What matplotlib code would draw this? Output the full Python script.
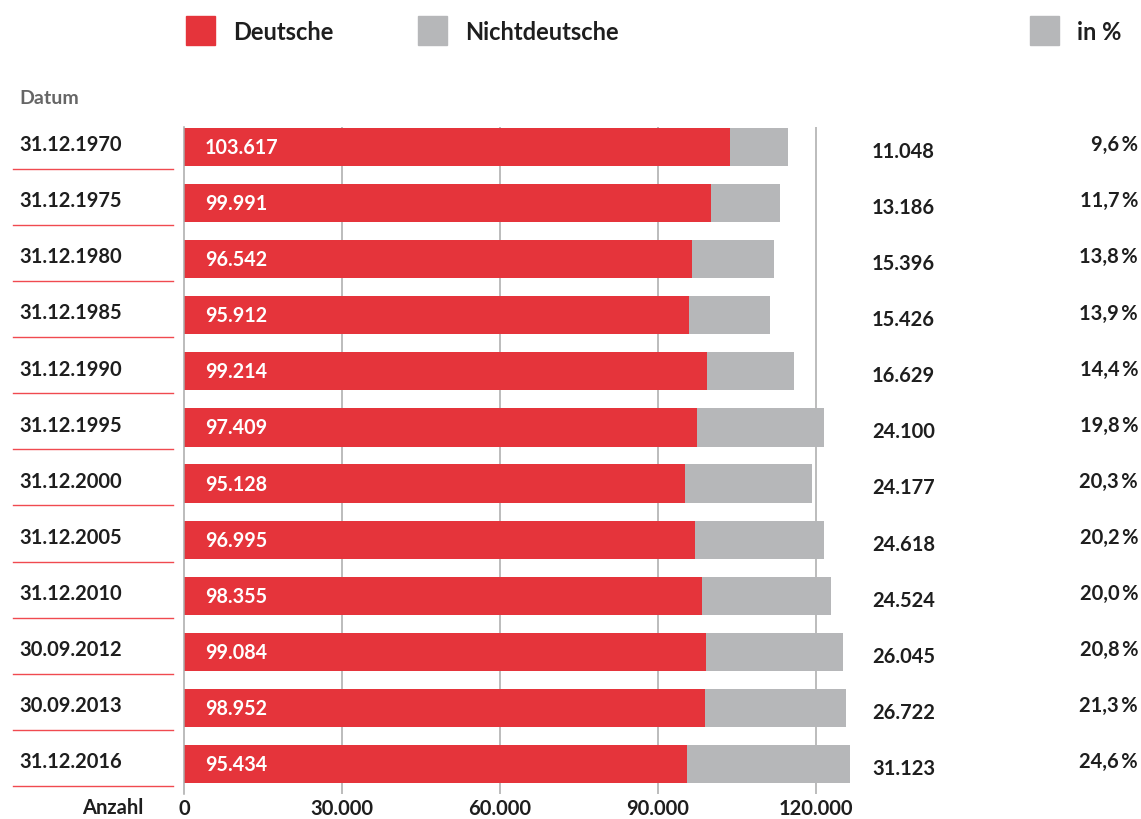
import matplotlib
matplotlib.use("Agg")
import matplotlib.pyplot as plt
from matplotlib.transforms import blended_transform_factory
from matplotlib.lines import Line2D
from matplotlib.patches import Rectangle

plt.rcParams['font.family'] = ['Lato', 'DejaVu Sans']

# Einwohner nach Staatsangehörigkeit
datum = ['31.12.1970', '31.12.1975', '31.12.1980', '31.12.1985', '31.12.1990',
         '31.12.1995', '31.12.2000', '31.12.2005', '31.12.2010', '30.09.2012',
         '30.09.2013', '31.12.2016']
deutsche = [103617, 99991, 96542, 95912, 99214, 97409, 95128, 96995, 98355,
            99084, 98952, 95434]
nichtdeutsche = [11048, 13186, 15396, 15426, 16629, 24100, 24177, 24618, 24524,
                 26045, 26722, 31123]
anteil = [9.6, 11.7, 13.8, 13.9, 14.4, 19.8, 20.3, 20.2, 20.0, 20.8, 21.3, 24.6]
ticks = [0, 30000, 60000, 90000, 120000]

ROT = '#e5343b'
GRAU = '#b6b7b9'
TEXT = '#1e1e1e'
FS = 14.5


def fmt(n):
    return f"{n:,}".replace(',', '.')


W, H = 1141, 820
fig = plt.figure(figsize=(W / 100, H / 100), dpi=100)
# Achsenbereich in Pixeln: links 184, rechts 850, oben 128, unten 795
ax = fig.add_axes([184 / W, 1 - 795 / H, 666 / W, (795 - 128) / H])

y = list(range(len(datum)))
ax.barh(y, deutsche, height=0.68, color=ROT, zorder=2)
ax.barh(y, nichtdeutsche, left=deutsche, height=0.68, color=GRAU, zorder=2)

ax.set_xlim(0, 666 * 30000 / 158)
ax.set_ylim(len(datum) - 1 + 0.535, -0.357)

for t in ticks[1:]:
    ax.axvline(t, color='#a9a9a9', lw=1.1, zorder=1)
for s in ['top', 'right', 'bottom']:
    ax.spines[s].set_visible(False)
ax.spines['left'].set_color('#a9a9a9')
ax.spines['left'].set_linewidth(1.1)
ax.set_yticks([])
ax.set_xticks(ticks)
ax.set_xticklabels([fmt(t) for t in ticks], fontsize=FS, fontweight='bold',
                   color=TEXT)
ax.tick_params(axis='x', length=0, pad=3)

# Zahlen in den roten Balken
for i, d in enumerate(deutsche):
    ax.text(4000, i, fmt(d), color='white', fontsize=14.2, fontweight='bold',
            va='center', ha='left', zorder=3)

# Spalten links und rechts neben den Balken
tr = blended_transform_factory(fig.transFigure, ax.transData)
for i in y:
    fig.text(19 / W, i - 0.05, datum[i], transform=tr, fontsize=FS,
             fontweight='bold', color=TEXT, va='center', ha='left')
    fig.add_artist(Line2D([13 / W, 173 / W], [i + 0.39, i + 0.39], transform=tr,
                          color='#f04a50', lw=1.0))
    fig.text(872 / W, i + 0.07, fmt(nichtdeutsche[i]), transform=tr,
             fontsize=FS, fontweight='bold', color=TEXT, va='center', ha='left')
    fig.text(1138 / W, i - 0.05, f"{anteil[i]:.1f}".replace('.', ',') + '\u2009%',
             transform=tr, fontsize=FS, fontweight='bold', color=TEXT,
             va='center', ha='right')

fig.text(143 / W, 1 - 808 / H, 'Anzahl', fontsize=FS, fontweight='bold',
         color=TEXT, va='center', ha='right')
fig.text(19 / W, 1 - 99 / H, 'Datum', fontsize=14, fontweight='bold',
         color='#666666', va='center', ha='left')

# Legende oben
for x0, farbe, label in [(186, ROT, 'Deutsche'), (418, GRAU, 'Nichtdeutsche'),
                         (1030, GRAU, 'in %')]:
    fig.add_artist(Rectangle((x0 / W, 1 - 46 / H), 29 / W, 29 / H,
                             transform=fig.transFigure, color=farbe))
    fig.text((x0 + 47) / W, 1 - 32 / H, label, fontsize=17, fontweight='bold',
             color=TEXT, va='center', ha='left')

fig.savefig('out.png', dpi=100)
